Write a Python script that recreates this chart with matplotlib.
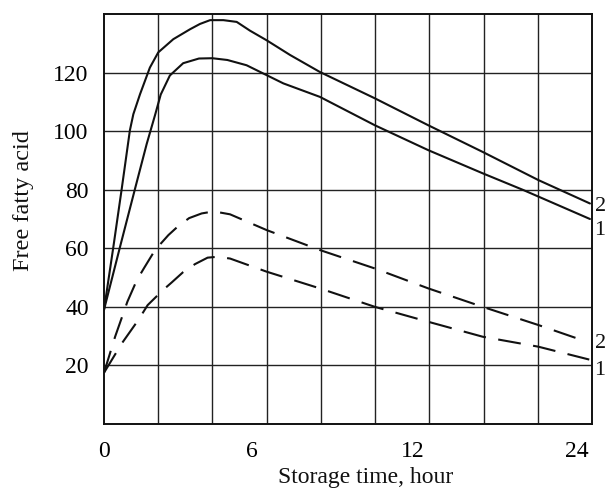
import numpy as np
import matplotlib
matplotlib.use("Agg")
import matplotlib.pyplot as plt

# ---------------- data ----------------
hours_solid2 = [0, 0.38, 0.72, 1.05, 1.19, 1.46, 1.86, 2.20, 2.81, 3.49, 3.89, 4.30, 4.84,
                5.38, 5.92, 6.55, 7.42, 8.53, 10.58, 13.12, 17.10, 21.17, 24.95]
ffa_solid2 = [39, 60.5, 80.4, 100.3, 105.8, 112.6, 121.7, 126.9, 131.4, 134.8, 136.6, 137.9, 137.9,
              137.3, 134.3, 131.0, 126.0, 120.2, 111.2, 102.0, 92.9, 83.3, 75.3]

hours_solid1 = [0, 0.65, 1.26, 1.73, 2.07, 2.30, 2.67, 3.21, 3.85, 4.39, 5.00, 5.78,
                6.55, 7.17, 8.53, 10.58, 13.12, 17.10, 20.07, 24.95]
ffa_solid1 = [39, 60.5, 80.4, 95.6, 105.5, 112.5, 119.0, 123.2, 124.8, 124.9, 124.3, 122.5,
              119.1, 116.3, 111.7, 102.0, 93.5, 85.6, 79.9, 70.0]

hours_dash2 = [0, 0.45, 0.95, 1.33, 1.62, 2.07, 2.61, 3.00, 3.45, 3.96, 4.45, 5.11,
               6.55, 8.53, 10.58, 13.12, 17.10, 21.17, 24.71]
ffa_dash2 = [17.5, 29.8, 41.8, 49.1, 53.2, 59.4, 64.5, 67.5, 70.3, 71.9, 72.6, 71.6,
             66.2, 59.4, 53.1, 46.3, 40.0, 33.8, 28.1]

hours_dash1 = [0, 0.72, 1.39, 1.77, 2.40, 2.74, 3.20, 3.69, 4.20, 4.60, 5.11,
               6.55, 8.53, 10.58, 13.12, 17.10, 21.17, 24.90]
ffa_dash1 = [17.5, 27.5, 35.5, 40.6, 45.8, 48.3, 51.8, 54.6, 56.8, 57.1, 56.5,
             52.0, 46.3, 40.0, 34.9, 29.8, 26.4, 22.0]

x_tick_values = [0, 6, 12, 24]
y_tick_values = [20, 40, 60, 80, 100, 120]
curve_labels = ["2", "1", "2", "1"]

# ---------------- non-uniform time axis of the original figure ----------------
hour_knots = np.array([0.0, 6.0, 12.0, 24.0, 25.1])
pos_knots = np.array([104.0, 252.0, 413.0, 577.0, 592.0])


def fwd(h):
    return np.interp(h, hour_knots, pos_knots)


def inv(p):
    return np.interp(p, pos_knots, hour_knots)


plt.rcParams["font.family"] = ["Liberation Serif", "DejaVu Serif"]

fig = plt.figure(figsize=(6.07, 4.90), dpi=100)
ax = fig.add_axes([104 / 607, 66 / 490, 488 / 607, 410 / 490])

ax.set_xscale("function", functions=(fwd, inv))
ax.set_xlim(0, 25.1)
ax.set_ylim(0, 140)

ink = "#111111"
lw = 1.5
ax.plot(hours_solid2, ffa_solid2, color=ink, lw=lw, solid_capstyle="round",
        solid_joinstyle="round", zorder=3)
ax.plot(hours_solid1, ffa_solid1, color=ink, lw=lw, solid_capstyle="round",
        solid_joinstyle="round", zorder=3)
ax.plot(hours_dash2, ffa_dash2, color=ink, lw=lw, linestyle=(0, (11, 6)), zorder=3)
ax.plot(hours_dash1, ffa_dash1, color=ink, lw=lw, linestyle=(0, (11, 6)), zorder=3)

# grid: evenly spaced vertical rules of the original chart
grid_x = inv(np.linspace(104, 592, 10)[1:-1])
ax.set_xticks(grid_x, minor=True)
ax.set_xticks(x_tick_values)
ax.set_xticklabels([str(v) for v in x_tick_values], fontsize=17)
ax.set_yticks(y_tick_values)
ax.set_yticklabels([str(v) for v in y_tick_values], fontsize=17)
ax.tick_params(axis="both", which="both", length=0)
ax.tick_params(axis="x", pad=12)
ax.tick_params(axis="y", pad=11)
ax.grid(False)
ax.xaxis.grid(True, which="minor", color="#222222", lw=1.0)
ax.yaxis.grid(True, which="major", color="#222222", lw=1.0)
ax.set_axisbelow(True)

for s in ax.spines.values():
    s.set_color(ink)
    s.set_linewidth(1.4)

# curve numbers at the right end (kept inside the figure)
label_y = [74.2, 66.2, 27.6, 18.4]
for txt, yv in zip(curve_labels, label_y):
    ax.text(594.5 / 607, yv, txt,
            transform=matplotlib.transforms.blended_transform_factory(fig.transFigure, ax.transData),
            ha="left", va="center", fontsize=16, color=ink, clip_on=False)

fig.text(366 / 607, 1 - 483 / 490, "Storage time, hour", ha="center", va="baseline",
         fontsize=17, color=ink)
fig.text(23 / 607, 1 - 201 / 490, "Free fatty acid", ha="center", va="center",
         rotation=90, fontsize=17.5, color=ink)

fig.savefig("out.png", dpi=100, facecolor="white")
